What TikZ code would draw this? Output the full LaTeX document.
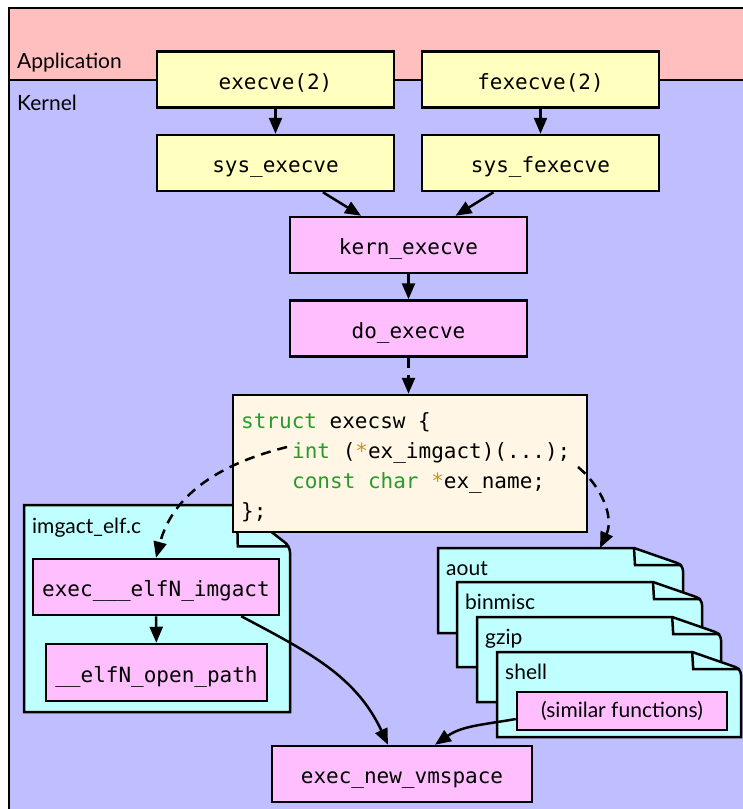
\documentclass[tikz,border=0pt]{standalone}
\usepackage{fontspec}
\setmainfont{Lato}
\setmonofont{DejaVu Sans Mono}
\usetikzlibrary{arrows.meta,calc}
\definecolor{appbg}{HTML}{FFBFBF}
\definecolor{kernbg}{HTML}{BFBFFF}
\definecolor{yel}{HTML}{FFFFBF}
\definecolor{pnk}{HTML}{FFBFFF}
\definecolor{cyn}{HTML}{BFFFFF}
\definecolor{cream}{HTML}{FFF6E5}
\definecolor{kwgreen}{HTML}{2A9A2A}
\definecolor{staror}{HTML}{C8961E}
\newcommand\kwd[1]{\textcolor{kwgreen}{#1}}
\newcommand\starc{\textcolor{staror}{*}}
\newcommand\pagedraw[4]{%
  \pgfmathsetmacro\pgfw{#3-0.2*(#3-#1)}%
  \pgfmathsetmacro\pgfh{-#2-0.2*(#4-#2)}%
  \filldraw[pg] (#1,-#2) -- (\pgfw,-#2) [rounded corners=6pt] -- (#3,\pgfh) [sharp corners] -- (#3,-#4) -- (#1,-#4) -- cycle;
  \draw[lw] (\pgfw,-#2) -- (\pgfw+1,\pgfh) -- (#3-1,\pgfh);
}
\begin{document}
\begin{tikzpicture}[x=1pt,y=1pt,
  lw/.style={line width=2.5pt},
  fnbox/.style={draw, lw, inner sep=0pt, minimum height=56pt,
    font=\ttfamily\fontsize{21}{25}\selectfont, text height=19pt, text depth=0pt},
  ybox/.style={fnbox, fill=yel},
  pbox/.style={fnbox, fill=pnk},
  lbl/.style={anchor=base west, inner sep=0pt, font=\fontsize{21}{25}\selectfont},
  code/.style={anchor=base west, inner sep=0pt, font=\ttfamily\fontsize{21}{25}\selectfont},
  arr/.style={lw, -{Triangle[length=16pt,width=13pt]}},
  darr/.style={arr, dash pattern=on 10pt off 7pt},
  pg/.style={lw, fill=cyn},
]
\useasboundingbox (0,0) rectangle (743,-809);
% layers
\fill[appbg] (9,-8) rectangle (743,-80);
\fill[kernbg] (9,-80) rectangle (743,-809);
\draw[lw] (743,-8) -- (9,-8) -- (9,-812);
\draw[lw] (9,-80) -- (743,-80);
\node[lbl] (applbl) at (17,-68) {Application};
\node[lbl] (kernlbl) at (17,-110) {Kernel};

% top boxes
\node[ybox, minimum width=237pt] (execve) at (275.5,-79.5) {execve(2)};
\node[ybox, minimum width=237pt] (fexecve) at (540.5,-79.5) {fexecve(2)};
\node[ybox, minimum width=237pt] (sysexecve) at (275.5,-163) {sys\_execve};
\node[ybox, minimum width=237pt] (sysfexecve) at (540.5,-163) {sys\_fexecve};
\node[pbox, minimum width=237pt] (kern) at (408.5,-245) {kern\_execve};
\node[pbox, minimum width=237pt] (doexec) at (408.5,-328.5) {do\_execve};
\draw[arr] (execve) -- (sysexecve);
\draw[arr] (fexecve) -- (sysfexecve);
\draw[arr] (sysexecve) -- (kern);
\draw[arr] (sysfexecve) -- (kern);
\draw[arr] (kern) -- (doexec);

% imgact_elf.c page
\pagedraw{24}{505}{290}{712}
\node[lbl] (elflbl) at (32,-533) {imgact\_elf.c};
\node[pbox, minimum width=246pt] (elfimg) at (156,-587) {exec\_\_\_elfN\_imgact};
\node[pbox, minimum width=221pt, minimum height=57pt] (openpath) at (156.5,-672.5) {\_\_elfN\_open\_path};
\draw[arr] (elfimg) -- (openpath);

% other activators
\pagedraw{438}{548}{683}{633}
\node[lbl] (aoutlbl) at (446,-575) {aout};
\pagedraw{457}{582}{702}{667}
\node[lbl] (binlbl) at (465,-609) {binmisc};
\pagedraw{477}{617}{721}{702}
\node[lbl] (gziplbl) at (485,-644) {gzip};
\pagedraw{497}{652}{741}{737}
\node[lbl] (shelllbl) at (505,-679) {shell};
\node[draw, lw, fill=pnk, inner sep=0pt, minimum width=210pt, minimum height=38pt,
  font=\fontsize{21}{25}\selectfont, text height=12pt, text depth=0pt] (simfn) at (622,-711) {(similar functions)};
\coordinate (aouttop) at (600,-548);

% exec_new_vmspace
\node[pbox, minimum width=260pt] (vmspace) at (402,-774) {exec\_new\_vmspace};

% struct execsw
\node[draw, lw, fill=cream, minimum width=354pt, minimum height=137pt, inner sep=0pt] (execsw) at (410,-463.5) {};
\node[code] (c1) at (241,-428) {\kwd{struct} execsw \{};
\node[code] (c2) at (292,-458) {\kwd{int} (\starc ex\_imgact)(...);};
\node[code] (c3) at (292,-488) {\kwd{const} \kwd{char} \starc ex\_name;};
\node[code] (c4) at (241,-518) {\};};
\coordinate (imgL) at (287,-447);
\coordinate (imgR) at (578,-467);

% connectors
\draw[darr] (doexec.south) -- (doexec.south |- execsw.north);
\draw[darr] (imgL) to[out=194,in=75] (elfimg.north);
\draw[darr] (imgR) to[out=-40,in=65] (aouttop);
\draw[arr] ([xshift=-39pt]elfimg.south east) to[out=-28,in=115] ([xshift=-14pt]vmspace.north);
\draw[arr] ([yshift=-8pt]simfn.west) to[out=190,in=35] ([xshift=33pt]vmspace.north);
\end{tikzpicture}
\end{document}
